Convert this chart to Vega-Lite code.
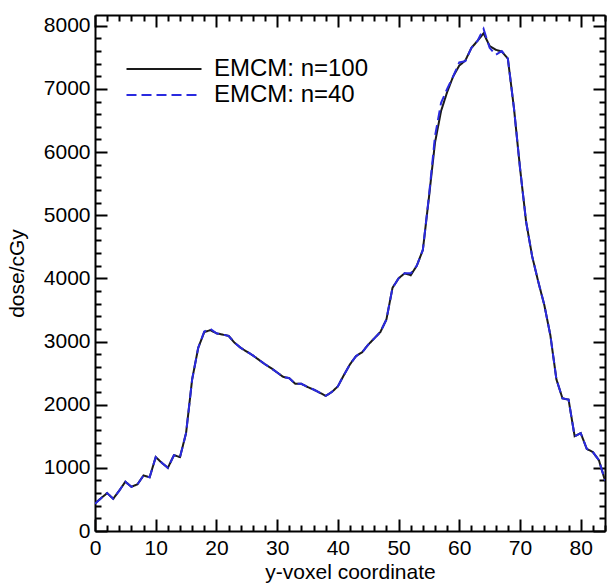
{
  "$schema": "https://vega.github.io/schema/vega-lite/v6.json",
  "autosize": "none",
  "width": 510,
  "height": 516,
  "padding": {"left": 95, "top": 15, "right": 4, "bottom": 56},
  "background": "white",
  "config": {
    "view": {"stroke": null},
    "font": "Liberation Sans",
    "axis": {
      "domainColor": "black",
      "domainWidth": 2,
      "tickColor": "black",
      "tickWidth": 2,
      "grid": false,
      "labelFont": "Liberation Sans",
      "labelFontSize": 21,
      "labelColor": "black",
      "titleFont": "Liberation Sans",
      "titleFontSize": 21,
      "titleFontWeight": "normal",
      "titleColor": "black"
    }
  },
  "datasets": {
    "curves": [
      {"x":0,"dose":440,"series":"EMCM: n=100"},{"x":1,"dose":520,"series":"EMCM: n=100"},{"x":2,"dose":600,"series":"EMCM: n=100"},{"x":3,"dose":510,"series":"EMCM: n=100"},{"x":4,"dose":640,"series":"EMCM: n=100"},{"x":5,"dose":780,"series":"EMCM: n=100"},{"x":6,"dose":700,"series":"EMCM: n=100"},{"x":7,"dose":740,"series":"EMCM: n=100"},{"x":8,"dose":880,"series":"EMCM: n=100"},{"x":9,"dose":850,"series":"EMCM: n=100"},
      {"x":10,"dose":1170,"series":"EMCM: n=100"},{"x":11,"dose":1080,"series":"EMCM: n=100"},{"x":12,"dose":1000,"series":"EMCM: n=100"},{"x":13,"dose":1200,"series":"EMCM: n=100"},{"x":14,"dose":1170,"series":"EMCM: n=100"},{"x":15,"dose":1550,"series":"EMCM: n=100"},{"x":16,"dose":2400,"series":"EMCM: n=100"},{"x":17,"dose":2900,"series":"EMCM: n=100"},{"x":18,"dose":3150,"series":"EMCM: n=100"},{"x":19,"dose":3180,"series":"EMCM: n=100"},
      {"x":20,"dose":3130,"series":"EMCM: n=100"},{"x":21,"dose":3110,"series":"EMCM: n=100"},{"x":22,"dose":3090,"series":"EMCM: n=100"},{"x":23,"dose":2980,"series":"EMCM: n=100"},{"x":24,"dose":2900,"series":"EMCM: n=100"},{"x":25,"dose":2840,"series":"EMCM: n=100"},{"x":26,"dose":2780,"series":"EMCM: n=100"},{"x":27,"dose":2710,"series":"EMCM: n=100"},{"x":28,"dose":2640,"series":"EMCM: n=100"},{"x":29,"dose":2580,"series":"EMCM: n=100"},
      {"x":30,"dose":2510,"series":"EMCM: n=100"},{"x":31,"dose":2440,"series":"EMCM: n=100"},{"x":32,"dose":2420,"series":"EMCM: n=100"},{"x":33,"dose":2330,"series":"EMCM: n=100"},{"x":34,"dose":2330,"series":"EMCM: n=100"},{"x":35,"dose":2280,"series":"EMCM: n=100"},{"x":36,"dose":2240,"series":"EMCM: n=100"},{"x":37,"dose":2190,"series":"EMCM: n=100"},{"x":38,"dose":2140,"series":"EMCM: n=100"},{"x":39,"dose":2200,"series":"EMCM: n=100"},
      {"x":40,"dose":2290,"series":"EMCM: n=100"},{"x":41,"dose":2470,"series":"EMCM: n=100"},{"x":42,"dose":2640,"series":"EMCM: n=100"},{"x":43,"dose":2770,"series":"EMCM: n=100"},{"x":44,"dose":2830,"series":"EMCM: n=100"},{"x":45,"dose":2950,"series":"EMCM: n=100"},{"x":46,"dose":3050,"series":"EMCM: n=100"},{"x":47,"dose":3150,"series":"EMCM: n=100"},{"x":48,"dose":3350,"series":"EMCM: n=100"},{"x":49,"dose":3850,"series":"EMCM: n=100"},
      {"x":50,"dose":4000,"series":"EMCM: n=100"},{"x":51,"dose":4080,"series":"EMCM: n=100"},{"x":52,"dose":4050,"series":"EMCM: n=100"},{"x":53,"dose":4200,"series":"EMCM: n=100"},{"x":54,"dose":4450,"series":"EMCM: n=100"},{"x":55,"dose":5280,"series":"EMCM: n=100"},{"x":56,"dose":6150,"series":"EMCM: n=100"},{"x":57,"dose":6650,"series":"EMCM: n=100"},{"x":58,"dose":6950,"series":"EMCM: n=100"},{"x":59,"dose":7200,"series":"EMCM: n=100"},
      {"x":60,"dose":7370,"series":"EMCM: n=100"},{"x":61,"dose":7450,"series":"EMCM: n=100"},{"x":62,"dose":7650,"series":"EMCM: n=100"},{"x":63,"dose":7760,"series":"EMCM: n=100"},{"x":64,"dose":7880,"series":"EMCM: n=100"},{"x":65,"dose":7680,"series":"EMCM: n=100"},{"x":66,"dose":7620,"series":"EMCM: n=100"},{"x":67,"dose":7590,"series":"EMCM: n=100"},{"x":68,"dose":7480,"series":"EMCM: n=100"},{"x":69,"dose":6700,"series":"EMCM: n=100"},
      {"x":70,"dose":5750,"series":"EMCM: n=100"},{"x":71,"dose":4900,"series":"EMCM: n=100"},{"x":72,"dose":4350,"series":"EMCM: n=100"},{"x":73,"dose":3950,"series":"EMCM: n=100"},{"x":74,"dose":3580,"series":"EMCM: n=100"},{"x":75,"dose":3100,"series":"EMCM: n=100"},{"x":76,"dose":2400,"series":"EMCM: n=100"},{"x":77,"dose":2100,"series":"EMCM: n=100"},{"x":78,"dose":2080,"series":"EMCM: n=100"},{"x":79,"dose":1500,"series":"EMCM: n=100"},
      {"x":80,"dose":1550,"series":"EMCM: n=100"},{"x":81,"dose":1300,"series":"EMCM: n=100"},{"x":82,"dose":1250,"series":"EMCM: n=100"},{"x":83,"dose":1120,"series":"EMCM: n=100"},{"x":84,"dose":800,"series":"EMCM: n=100"},
      {"x":0,"dose":430,"series":"EMCM: n=40"},{"x":1,"dose":520,"series":"EMCM: n=40"},{"x":2,"dose":600,"series":"EMCM: n=40"},{"x":3,"dose":510,"series":"EMCM: n=40"},{"x":4,"dose":640,"series":"EMCM: n=40"},{"x":5,"dose":780,"series":"EMCM: n=40"},{"x":6,"dose":700,"series":"EMCM: n=40"},{"x":7,"dose":740,"series":"EMCM: n=40"},{"x":8,"dose":880,"series":"EMCM: n=40"},{"x":9,"dose":850,"series":"EMCM: n=40"},
      {"x":10,"dose":1170,"series":"EMCM: n=40"},{"x":11,"dose":1080,"series":"EMCM: n=40"},{"x":12,"dose":1000,"series":"EMCM: n=40"},{"x":13,"dose":1200,"series":"EMCM: n=40"},{"x":14,"dose":1170,"series":"EMCM: n=40"},{"x":15,"dose":1550,"series":"EMCM: n=40"},{"x":16,"dose":2400,"series":"EMCM: n=40"},{"x":17,"dose":2900,"series":"EMCM: n=40"},{"x":18,"dose":3160,"series":"EMCM: n=40"},{"x":19,"dose":3200,"series":"EMCM: n=40"},
      {"x":20,"dose":3130,"series":"EMCM: n=40"},{"x":21,"dose":3110,"series":"EMCM: n=40"},{"x":22,"dose":3090,"series":"EMCM: n=40"},{"x":23,"dose":2980,"series":"EMCM: n=40"},{"x":24,"dose":2900,"series":"EMCM: n=40"},{"x":25,"dose":2840,"series":"EMCM: n=40"},{"x":26,"dose":2780,"series":"EMCM: n=40"},{"x":27,"dose":2710,"series":"EMCM: n=40"},{"x":28,"dose":2640,"series":"EMCM: n=40"},{"x":29,"dose":2580,"series":"EMCM: n=40"},
      {"x":30,"dose":2510,"series":"EMCM: n=40"},{"x":31,"dose":2440,"series":"EMCM: n=40"},{"x":32,"dose":2420,"series":"EMCM: n=40"},{"x":33,"dose":2330,"series":"EMCM: n=40"},{"x":34,"dose":2330,"series":"EMCM: n=40"},{"x":35,"dose":2280,"series":"EMCM: n=40"},{"x":36,"dose":2240,"series":"EMCM: n=40"},{"x":37,"dose":2190,"series":"EMCM: n=40"},{"x":38,"dose":2140,"series":"EMCM: n=40"},{"x":39,"dose":2200,"series":"EMCM: n=40"},
      {"x":40,"dose":2290,"series":"EMCM: n=40"},{"x":41,"dose":2470,"series":"EMCM: n=40"},{"x":42,"dose":2640,"series":"EMCM: n=40"},{"x":43,"dose":2770,"series":"EMCM: n=40"},{"x":44,"dose":2830,"series":"EMCM: n=40"},{"x":45,"dose":2950,"series":"EMCM: n=40"},{"x":46,"dose":3050,"series":"EMCM: n=40"},{"x":47,"dose":3150,"series":"EMCM: n=40"},{"x":48,"dose":3350,"series":"EMCM: n=40"},{"x":49,"dose":3850,"series":"EMCM: n=40"},
      {"x":50,"dose":4000,"series":"EMCM: n=40"},{"x":51,"dose":4080,"series":"EMCM: n=40"},{"x":52,"dose":4080,"series":"EMCM: n=40"},{"x":53,"dose":4200,"series":"EMCM: n=40"},{"x":54,"dose":4450,"series":"EMCM: n=40"},{"x":55,"dose":5300,"series":"EMCM: n=40"},{"x":56,"dose":6250,"series":"EMCM: n=40"},{"x":57,"dose":6780,"series":"EMCM: n=40"},{"x":58,"dose":7000,"series":"EMCM: n=40"},{"x":59,"dose":7200,"series":"EMCM: n=40"},
      {"x":60,"dose":7420,"series":"EMCM: n=40"},{"x":61,"dose":7440,"series":"EMCM: n=40"},{"x":62,"dose":7650,"series":"EMCM: n=40"},{"x":63,"dose":7760,"series":"EMCM: n=40"},{"x":64,"dose":7950,"series":"EMCM: n=40"},{"x":65,"dose":7650,"series":"EMCM: n=40"},{"x":66,"dose":7540,"series":"EMCM: n=40"},{"x":67,"dose":7600,"series":"EMCM: n=40"},{"x":68,"dose":7480,"series":"EMCM: n=40"},{"x":69,"dose":6700,"series":"EMCM: n=40"},
      {"x":70,"dose":5750,"series":"EMCM: n=40"},{"x":71,"dose":4900,"series":"EMCM: n=40"},{"x":72,"dose":4350,"series":"EMCM: n=40"},{"x":73,"dose":3950,"series":"EMCM: n=40"},{"x":74,"dose":3580,"series":"EMCM: n=40"},{"x":75,"dose":3100,"series":"EMCM: n=40"},{"x":76,"dose":2400,"series":"EMCM: n=40"},{"x":77,"dose":2100,"series":"EMCM: n=40"},{"x":78,"dose":2080,"series":"EMCM: n=40"},{"x":79,"dose":1500,"series":"EMCM: n=40"},
      {"x":80,"dose":1550,"series":"EMCM: n=40"},{"x":81,"dose":1300,"series":"EMCM: n=40"},{"x":82,"dose":1250,"series":"EMCM: n=40"},{"x":83,"dose":1120,"series":"EMCM: n=40"},{"x":84,"dose":800,"series":"EMCM: n=40"}
    ]
  },
  "data": {"name": "curves"},
  "resolve": {"axis": {"x": "independent", "y": "independent"}},
  "layer": [
    {
      "transform": [{"filter": "datum.series === 'EMCM: n=100'"}],
      "mark": {"type": "line", "strokeWidth": 2, "clip": true},
      "encoding": {
        "x": {
          "field": "x", "type": "quantitative",
          "scale": {"domain": [0, 84], "nice": false, "zero": false},
          "axis": {
            "orient": "bottom",
            "title": "y-voxel coordinate",
            "titleX": 255, "titleY": 47, "titleAlign": "center", "titleBaseline": "alphabetic",
            "values": [0,2,4,6,8,10,12,14,16,18,20,22,24,26,28,30,32,34,36,38,40,42,44,46,48,50,52,54,56,58,60,62,64,66,68,70,72,74,76,78,80,82,84],
            "format": "d",
            "labelExpr": "datum.value % 10 === 0 ? datum.label : ''",
            "tickSize": {"condition": {"test": "datum.value % 10 === 0", "value": -12}, "value": -6},
            "labelPadding": 18,
            "labelFlush": false,
            "labelOverlap": false
          }
        },
        "y": {
          "field": "dose", "type": "quantitative",
          "scale": {"domain": [0, 8170], "nice": false, "zero": false},
          "axis": {
            "orient": "left",
            "title": "dose/cGy",
            "titleX": -78, "titleY": 258, "titleAlign": "center", "titleBaseline": "middle", "titleAngle": -90,
            "values": [0,200,400,600,800,1000,1200,1400,1600,1800,2000,2200,2400,2600,2800,3000,3200,3400,3600,3800,4000,4200,4400,4600,4800,5000,5200,5400,5600,5800,6000,6200,6400,6600,6800,7000,7200,7400,7600,7800,8000],
            "format": "d",
            "labelExpr": "datum.value % 1000 === 0 ? datum.label : ''",
            "tickSize": {"condition": {"test": "datum.value % 1000 === 0", "value": -12}, "value": -6},
            "labelPadding": 17,
            "labelFlush": false,
            "labelOverlap": false
          }
        },
        "color": {
          "field": "series", "type": "nominal",
          "scale": {"domain": ["EMCM: n=100", "EMCM: n=40"], "range": ["#1a1a1a", "#2a2ae0"]},
          "legend": {
            "title": null,
            "orient": "none",
            "legendX": 57,
            "legendY": 42,
            "padding": 0,
            "symbolType": "M-7.5,0H7.5",
            "symbolSize": 100,
            "symbolStrokeWidth": 2,
            "labelFont": "Liberation Sans",
            "labelFontSize": 24,
            "labelColor": "black",
            "labelOffset": 38,
            "rowPadding": 2,
            "labelLimit": 300
          }
        },
        "strokeDash": {
          "field": "series", "type": "nominal",
          "scale": {"domain": ["EMCM: n=100", "EMCM: n=40"], "range": [[1, 0], [10, 5]]},
          "legend": null
        }
      }
    },
    {
      "transform": [{"filter": "datum.series === 'EMCM: n=40'"}],
      "mark": {"type": "line", "strokeWidth": 2, "clip": true},
      "encoding": {
        "x": {
          "field": "x", "type": "quantitative",
          "scale": {"domain": [0, 84], "nice": false, "zero": false},
          "axis": {
            "orient": "top",
            "title": null,
            "labels": false,
            "values": [0,2,4,6,8,10,12,14,16,18,20,22,24,26,28,30,32,34,36,38,40,42,44,46,48,50,52,54,56,58,60,62,64,66,68,70,72,74,76,78,80,82,84],
            "tickSize": {"condition": {"test": "datum.value % 10 === 0", "value": -12}, "value": -6}
          }
        },
        "y": {
          "field": "dose", "type": "quantitative",
          "scale": {"domain": [0, 8170], "nice": false, "zero": false},
          "axis": {
            "orient": "right",
            "title": null,
            "labels": false,
            "values": [0,200,400,600,800,1000,1200,1400,1600,1800,2000,2200,2400,2600,2800,3000,3200,3400,3600,3800,4000,4200,4400,4600,4800,5000,5200,5400,5600,5800,6000,6200,6400,6600,6800,7000,7200,7400,7600,7800,8000],
            "tickSize": {"condition": {"test": "datum.value % 1000 === 0", "value": -12}, "value": -6}
          }
        },
        "color": {
          "field": "series", "type": "nominal",
          "scale": {"domain": ["EMCM: n=100", "EMCM: n=40"], "range": ["#1a1a1a", "#2a2ae0"]}
        },
        "strokeDash": {
          "field": "series", "type": "nominal",
          "scale": {"domain": ["EMCM: n=100", "EMCM: n=40"], "range": [[1, 0], [10, 5]]},
          "legend": null
        }
      }
    }
  ]
}
